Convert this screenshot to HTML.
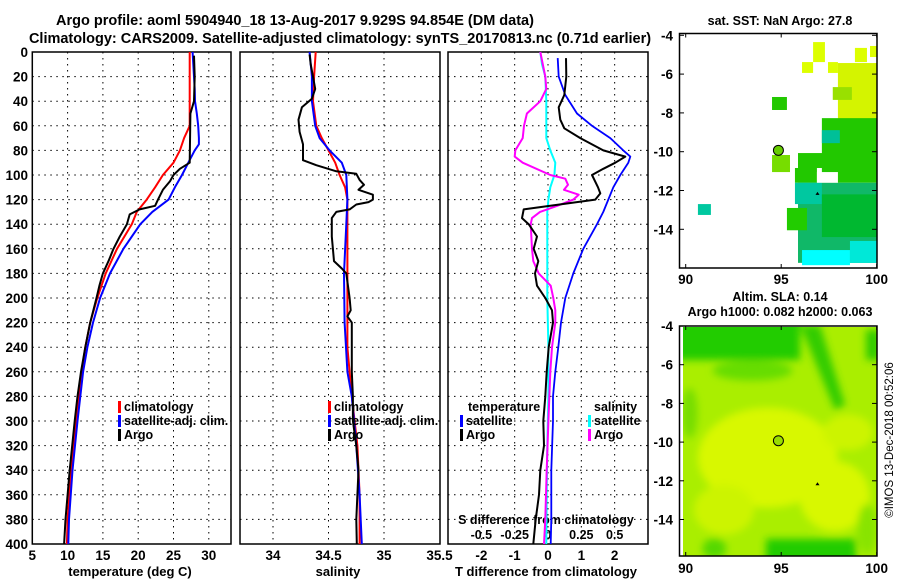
<!DOCTYPE html>
<html><head><meta charset="utf-8">
<style>
html,body{margin:0;padding:0;background:#fff;}
svg{display:block;font-family:"Liberation Sans",sans-serif;font-weight:bold;}
</style></head>
<body>
<svg id="fig" width="900" height="580" viewBox="0 0 900 580" xmlns="http://www.w3.org/2000/svg">
<rect x="0" y="0" width="900" height="580" fill="#fff"/>
<text x="295" y="25" font-size="14.5" text-anchor="middle">Argo profile: aoml 5904940_18 13-Aug-2017 9.929S 94.854E (DM data)</text>
<text x="340" y="43" font-size="14.5" text-anchor="middle">Climatology: CARS2009. Satellite-adjusted climatology: synTS_20170813.nc (0.71d earlier)</text>
<text x="780" y="25" font-size="12.5" text-anchor="middle">sat. SST: NaN Argo: 27.8</text>
<text x="780" y="301" font-size="12.5" text-anchor="middle">Altim. SLA: 0.14</text>
<text x="780" y="316" font-size="12.5" text-anchor="middle">Argo h1000: 0.082 h2000: 0.063</text>
<text x="0" y="0" font-size="11.5" font-weight="normal" text-anchor="middle" transform="translate(893,440) rotate(-90)">©IMOS 13-Dec-2018 00:52:06</text>
<g id="layer"></g>
</svg>
<script>
// ---------- data ----------
const depthTicks = [0,20,40,60,80,100,120,140,160,180,200,220,240,260,280,300,320,340,360,380,400];
const tempTicks = [5,10,15,20,25,30];
const salTicks = [34,34.5,35,35.5];
const salTickLabels = ["34","34.5","35","35.5"];
const tdiffTicks = [-2,-1,0,1,2];
const sdiffTicks = [-0.5,-0.25,0,0.25,0.5];
const sdiffTickLabels = ["-0.5","-0.25","0","0.25","0.5"];

const tClimDepth = [0,60,70,80,90,100,110,120,130,140,160,180,200,220,240,260,280,300,340,380,400];
const tClimVal   = [27.3,27.3,26.5,25.9,25.0,23.5,22.4,21.2,19.8,19.1,17.0,15.4,14.2,13.2,12.5,12.0,11.6,11.2,10.5,10.0,9.9];
const tSatDepth  = [0,10,30,40,50,60,70,75,80,90,100,110,120,130,140,160,180,200,220,240,260,280,300,340,380,400];
const tSatVal    = [27.7,27.8,28.0,28.05,28.3,28.5,28.6,28.6,28.0,27.1,26.2,25.2,24.3,22.0,20.3,17.9,16.0,14.6,13.6,12.8,12.2,11.8,11.4,10.7,10.2,10.1];
const tArgoDepth = [3,20,40,50,90,95,100,105,112,120,125,128,132,140,150,160,170,180,190,200,220,240,260,280,300,340,380,400];
const tArgoVal   = [27.9,28.0,27.9,27.4,27.3,25.9,25.0,24.5,23.5,22.8,22.4,20.2,18.8,18.4,17.4,16.5,15.8,15.0,14.5,14.1,13.2,12.5,11.9,11.4,11.0,10.3,9.7,9.5];

const sClimDepth = [0,20,40,60,70,80,90,100,110,120,200,240,280,320,360,400];
const sClimVal   = [34.385,34.37,34.36,34.39,34.44,34.5,34.56,34.6,34.65,34.67,34.67,34.67,34.71,34.76,34.78,34.78];
const sSatDepth  = [0,20,40,60,70,80,90,100,120,140,180,220,260,280,320,360,400];
const sSatVal    = [34.33,34.35,34.35,34.38,34.42,34.51,34.62,34.66,34.67,34.66,34.64,34.645,34.67,34.71,34.75,34.78,34.8];
const sArgoDepth = [2,10,20,30,38,45,55,65,75,88,92,97,99,104,108,112,116,120,122,124,128,130,135,150,170,176,180,200,210,215,220,260,280,300,320,340,360,380,400];
const sArgoVal   = [34.33,34.34,34.36,34.38,34.35,34.26,34.23,34.24,34.27,34.27,34.39,34.57,34.75,34.78,34.82,34.77,34.9,34.9,34.86,34.75,34.69,34.57,34.53,34.53,34.55,34.62,34.66,34.69,34.7,34.67,34.71,34.71,34.72,34.72,34.75,34.77,34.76,34.75,34.755];

const dtSatDepth  = [5,20,35,50,60,70,80,85,90,100,110,120,130,140,160,180,200,220,240,260,280,300,340,380,400];
const dtSatVal    = [0.29,0.32,0.52,0.87,1.32,1.87,2.26,2.47,2.41,2.17,1.96,1.81,1.66,1.47,1.06,0.76,0.52,0.39,0.31,0.22,0.15,0.15,0.1,0.1,0.08];
const dtArgoDepth = [5,20,35,45,55,62,70,80,85,90,95,100,110,115,120,125,128,135,140,150,160,170,180,190,200,210,220,240,260,280,300,320,340,360,380,400];
const dtArgoVal   = [0.54,0.55,0.49,0.32,0.37,0.49,0.97,1.66,2.32,2.02,1.66,1.32,1.5,1.57,1.42,0.07,-0.73,-0.78,-0.58,-0.33,-0.43,-0.29,-0.39,-0.33,-0.08,0.12,0.15,0.02,-0.04,-0.08,-0.14,-0.12,-0.23,-0.27,-0.37,-0.44];
const dsSatDepth  = [0,10,20,40,60,70,80,90,100,110,120,130,160,200,240,280,320,360,400];
const dsSatVal    = [-0.058,-0.045,-0.02,-0.013,-0.013,-0.013,0.017,0.055,0.048,0.017,0.003,-0.005,-0.005,-0.005,0.003,0.003,-0.005,-0.01,-0.013];
const dsArgoDepth = [0,20,30,40,50,60,70,80,85,90,100,103,108,112,116,120,125,130,135,140,160,170,180,190,200,210,220,240,260,300,340,380,400];
const dsArgoVal   = [-0.058,-0.02,-0.013,-0.058,-0.158,-0.18,-0.19,-0.245,-0.25,-0.19,0.017,0.13,0.15,0.12,0.23,0.19,0.07,-0.06,-0.12,-0.13,-0.12,-0.11,-0.07,0.02,0.04,0.055,0.055,0.03,0.017,0.003,-0.01,-0.02,-0.03];

const sstCellLon0 = [96.67,96.09,97.45,98.86,99.65,97.97,97.70,97.13,97.13,94.52,95.88,95.72,95.88,95.72,97.13,95.30,96.09,98.60,96.87,94.52,90.64];
const sstCellLon1 = [97.29,96.67,97.97,99.49,100.0,100.0,98.70,100.0,98.07,95.46,97.45,96.87,100.0,97.13,100.0,96.35,98.60,100.0,97.97,95.30,91.32];
const sstCellLat0 = [-4.35,-5.38,-5.38,-4.65,-4.55,-5.43,-6.67,-8.27,-8.89,-10.17,-10.07,-10.84,-11.6,-11.6,-12.2,-12.9,-15.07,-14.6,-11.05,-7.18,-12.7];
const sstCellLat1 = [-5.38,-5.94,-5.94,-5.38,-5.12,-8.73,-7.33,-11.6,-9.56,-11.05,-10.84,-11.6,-15.73,-12.7,-14.4,-14.05,-15.85,-15.73,-11.6,-7.85,-13.26];
const sstCellColor= ["#ddff00","#ddff00","#ddff00","#ddff00","#ddff00","#d4f400","#99e000","#22c800","#00c098","#77dd00","#22c800","#22c800","#10b868","#00c8a0","#00b830","#22cc00","#00ffff","#00e8d8","#ffffff","#22c800","#00c8a0"];

const argoLon = 94.854, argoLat = -9.929;
const islandLon = 96.9, islandLat = -12.15;

// ---------- scales ----------
const yD = d => 52 + d*1.23;
const xT = t => 32.3 + (t-5)*7.06;
const xS = s => 273 + (s-34)*111;
const xDT = t => 548 + t*33.33;
const xDS = s => 548 + s*133.3;
const m1x = lon => 685.7 + (lon-90)*19.1;
const m1y = lat => 35.3 + (-4-lat)*19.4;
const m2x = lon => 685.7 + (lon-90)*19.1;
const m2y = lat => 326 + (-4-lat)*19.35;

const NS = "http://www.w3.org/2000/svg";
const layer = document.getElementById("layer");
function mk(tag, attrs, parent){
  const e = document.createElementNS(NS, tag);
  for (const k in attrs) e.setAttribute(k, attrs[k]);
  (parent||layer).appendChild(e);
  return e;
}
function txt(x,y,s,size,anchor,parent){
  const e = mk("text",{x:x,y:y,"font-size":size,"text-anchor":anchor||"middle"},parent);
  e.textContent = s;
  return e;
}

// ---------- profile panels ----------
const panels = [
  {x0:32.3,x1:231,name:"temperature-panel"},
  {x0:240,x1:440,name:"salinity-panel"},
  {x0:448,x1:648,name:"difference-panel"}
];
const Y0 = yD(0), Y1 = yD(400);
panels.forEach((p,i)=>{
  const g = mk("g",{});
  
  
  depthTicks.forEach(d=>{
    if (d===0||d===400) return;
    const l = mk("line",{x1:p.x0,x2:p.x1,y1:yD(d),y2:yD(d),stroke:"#000","stroke-width":1,"stroke-dasharray":"1.5,4.5"},g);
    
    
  });
  let vt = i===0?tempTicks.map(xT):(i===1?salTicks.map(xS):tdiffTicks.map(xDT));
  vt.forEach(x=>{
    if (x<=p.x0+1||x>=p.x1-1) return;
    const l = mk("line",{x1:x,x2:x,y1:Y0,y2:Y1,stroke:"#000","stroke-width":1,"stroke-dasharray":"1.5,4.5"},g);
    
    
  });
  const r = mk("rect",{x:p.x0,y:Y0,width:p.x1-p.x0,height:Y1-Y0,fill:"none",stroke:"#000","stroke-width":1.5},g);
  
  
});

depthTicks.forEach(d=>{
  const t = txt(28,yD(d)+5,String(d),13.5,"end");
  
  
});
tempTicks.forEach(v=>{
  const t = txt(xT(v),560,String(v),13.5);
  
  
});
salTicks.forEach((v,i)=>{
  const t = txt(xS(v),560,salTickLabels[i],13.5);
  
  
});
tdiffTicks.forEach(v=>{
  const t = txt(xDT(v),560,String(v),13.5);
  
  
});
sdiffTicks.forEach((v,i)=>{
  const t = txt(xDS(v),539,sdiffTickLabels[i],12.5);
  
  
});
let at;
at = txt(130,576,"temperature (deg C)",13);


at = txt(338,576,"salinity",13);


at = txt(546,576,"T difference from climatology",13);


at = txt(546,524,"S difference from climatology",12.5);



function series(depths, vals, xf, color, w, name){
  const pts = depths.map((d,i)=>xf(vals[i]).toFixed(1)+","+yD(d).toFixed(1)).join(" ");
  const pl = mk("polyline",{points:pts,fill:"none",stroke:color,"stroke-width":w,"stroke-linejoin":"round"});
  
  
}
series(tClimDepth,tClimVal,xT,"#ff0000",2,"temperature-climatology-line");
series(tSatDepth,tSatVal,xT,"#0000ff",2,"temperature-satellite-line");
series(tArgoDepth,tArgoVal,xT,"#000000",2,"temperature-argo-line");
series(sClimDepth,sClimVal,xS,"#ff0000",2,"salinity-climatology-line");
series(sSatDepth,sSatVal,xS,"#0000ff",2,"salinity-satellite-line");
series(sArgoDepth,sArgoVal,xS,"#000000",2,"salinity-argo-line");
series(dtSatDepth,dtSatVal,xDT,"#0000ff",1.8,"t-diff-satellite-line");
series(dsSatDepth,dsSatVal,xDS,"#00ffff",2,"s-diff-satellite-line");
series(dsArgoDepth,dsArgoVal,xDS,"#ff00ff",2,"s-diff-argo-line");
series(dtArgoDepth,dtArgoVal,xDT,"#000000",2,"t-diff-argo-line");

function legendEntry(x,y,color,label){
  const g = mk("g",{});
  
  
  mk("rect",{x:x,y:y-10,width:3,height:12,fill:color},g);
  txt(x+6,y,label,12.5,"start",g);
}
legendEntry(118,411,"#ff0000","climatology");
legendEntry(118,425,"#0000ff","satellite-adj. clim.");
legendEntry(118,439,"#000000","Argo");
legendEntry(328,411,"#ff0000","climatology");
legendEntry(328,425,"#0000ff","satellite-adj. clim.");
legendEntry(328,439,"#000000","Argo");
at = txt(468,411,"temperature",12.5,"start");


legendEntry(460,425,"#0000ff","satellite");
legendEntry(460,439,"#000000","Argo");
at = txt(594,411,"salinity",12.5,"start");


legendEntry(588,425,"#00ffff","satellite");
legendEntry(588,439,"#ff00ff","Argo");

// ---------- SST map ----------
const sst = mk("g",{});


sstCellColor.forEach((c,i)=>{
  const x0 = m1x(sstCellLon0[i]), x1 = m1x(sstCellLon1[i]);
  const y0 = m1y(sstCellLat0[i]), y1 = m1y(sstCellLat1[i]);
  const r = mk("rect",{x:Math.min(x0,x1),y:Math.min(y0,y1),width:Math.abs(x1-x0),height:Math.abs(y1-y0),fill:c},sst);
  
  
});
function mapFrame(g, top, bottom, yf, labY){
  const fr = mk("rect",{x:679.5,y:top,width:197.5,height:bottom-top,fill:"none",stroke:"#000","stroke-width":1.5},g);
  
  
  [-4,-6,-8,-10,-12,-14].forEach(lat=>{
    const y = yf(lat);
    mk("line",{x1:679.5,x2:684,y1:y,y2:y,stroke:"#000"},g);
    mk("line",{x1:872,x2:877,y1:y,y2:y,stroke:"#000"},g);
    const t = txt(673,y+5,String(lat),13.5,"end",g);
    
    
  });
  [90,95,100].forEach(lon=>{
    const x = m1x(lon);
    mk("line",{x1:x,x2:x,y1:bottom,y2:bottom-4,stroke:"#000"},g);
    mk("line",{x1:x,x2:x,y1:top,y2:top+4,stroke:"#000"},g);
    const t = txt(x,labY,String(lon),13.5,"middle",g);
    
    
  });
}
mapFrame(sst,33.5,268,m1y,284);
let mk1 = mk("circle",{cx:m1x(argoLon),cy:m1y(argoLat),r:5,fill:"#66cc00",stroke:"#000","stroke-width":1},sst);


mk("path",{d:`M${m1x(islandLon)-2},${m1y(islandLat)+1.5} l2,-3 l2,3 z`,fill:"#000"},sst);

// ---------- SLA map ----------
const sla = mk("g",{});


const defs = mk("defs",{});
const cp = mk("clipPath",{id:"slaclip"},defs);
mk("rect",{x:683,y:327,width:194,height:229},cp);
const fl = mk("filter",{id:"blur",x:"-20%",y:"-20%",width:"140%",height:"140%"},defs);
mk("feGaussianBlur",{stdDeviation:"4"},fl);
const inner = mk("g",{"clip-path":"url(#slaclip)"},sla);
mk("rect",{x:683,y:327,width:194,height:229,fill:"#aaee00"},inner);
const blobs = mk("g",{filter:"url(#blur)"},inner);
mk("ellipse",{cx:m2x(94.3),cy:m2y(-10.8),rx:70,ry:50,fill:"#d8f800"},blobs);
mk("ellipse",{cx:m2x(97.8),cy:m2y(-12.8),rx:35,ry:35,fill:"#d8f800"},blobs);
mk("ellipse",{cx:m2x(92),cy:m2y(-13.5),rx:30,ry:25,fill:"#ccf400"},blobs);
mk("ellipse",{cx:m2x(98.5),cy:m2y(-9.5),rx:25,ry:18,fill:"#ccf400"},blobs);
mk("rect",{x:675,y:320,width:125,height:40,fill:"#22cc00"},blobs);
mk("ellipse",{cx:m2x(93.5),cy:m2y(-6.3),rx:40,ry:10,fill:"#66dd00"},blobs);
mk("path",{d:`M800,325 L820,325 L845,405 L835,410 Z`,fill:"#33cc00"},blobs);
mk("rect",{x:866,y:330,width:14,height:30,fill:"#33cc00"},blobs);
mk("ellipse",{cx:m2x(90.2),cy:m2y(-8.5),rx:8,ry:25,fill:"#77dd00"},blobs);
mk("rect",{x:m2x(94.2),y:m2y(-15),width:90,height:30,fill:"#22cc00"},blobs);
mk("ellipse",{cx:m2x(91.5),cy:m2y(-15.5),rx:12,ry:10,fill:"#55d800"},blobs);
mk("ellipse",{cx:m2x(99.5),cy:m2y(-14.5),rx:10,ry:25,fill:"#88e400"},blobs);
mapFrame(sla,326,556,m2y,573);
let mk2 = mk("circle",{cx:m2x(argoLon),cy:m2y(argoLat),r:5,fill:"#99dd00",stroke:"#000","stroke-width":1},sla);


mk("path",{d:`M${m2x(islandLon)-2},${m2y(islandLat)+1.5} l2,-3 l2,3 z`,fill:"#000"},sla);
</script>
</body></html>
